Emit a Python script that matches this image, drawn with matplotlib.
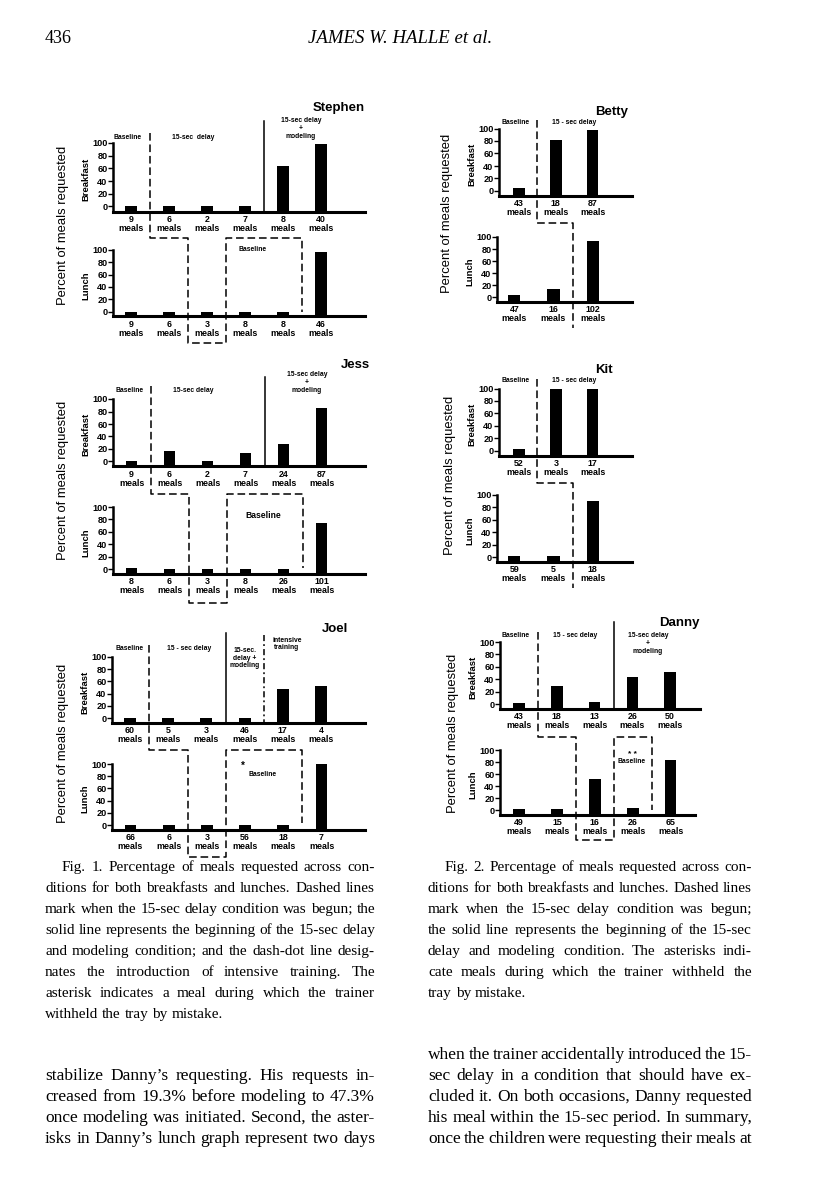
import numpy as np
import matplotlib
matplotlib.use("Agg")
import matplotlib.pyplot as plt

plt.rcParams['font.family'] = ['Liberation Sans', 'DejaVu Sans']
SERIF = ['Liberation Serif', 'DejaVu Serif']

W, H = 816, 1195
BASE = -8   # zero-valued bars show as short stubs above the axis line

# ---- percent of meals requested, and number of meals per condition ----
stephen_bk = [0, 0, 0, 0, 64, 99]
stephen_bk_n = [9, 6, 2, 7, 8, 40]
stephen_ln = [0, 0, 0, 0, 0, 96]
stephen_ln_n = [9, 6, 3, 8, 8, 46]

jess_bk = [0, 17, 1, 14, 28, 85]
jess_bk_n = [9, 6, 2, 7, 24, 87]
jess_ln = [1, 0, 0, 0, 0, 74]
jess_ln_n = [8, 6, 3, 8, 26, 101]

joel_bk = [0, 0, 0, 0, 48, 53]
joel_bk_n = [60, 5, 3, 46, 17, 4]
joel_ln = [0, 0, 0, 0, 0, 100]
joel_ln_n = [66, 6, 3, 56, 18, 7]

betty_bk = [5, 82, 98]
betty_bk_n = [43, 18, 87]
betty_ln = [4, 13, 93]
betty_ln_n = [47, 16, 102]

kit_bk = [2, 100, 99]
kit_bk_n = [52, 3, 17]
kit_ln = [1, 1, 91]
kit_ln_n = [59, 5, 18]

danny_bk = [2, 29, 4, 44, 51]
danny_bk_n = [43, 18, 13, 26, 50]
danny_ln = [2, 2, 51, 4, 84]
danny_ln_n = [49, 15, 16, 26, 65]

fig = plt.figure(figsize=(W / 100, H / 100), dpi=100)


def panel(left, right, top, bottom, x0, dx, vals, counts):
    # left/right/top/bottom are page pixels, y counted from the top
    ax = fig.add_axes([left / W, 1 - bottom / H, (right - left) / W, (bottom - top) / H])
    ax.set_xlim((left - x0) / dx, (right - x0) / dx)
    ax.set_ylim(BASE, 100)
    idx = np.arange(len(vals))
    ax.bar(idx, np.array(vals) - BASE, bottom=BASE, width=0.31, color='black', clip_on=False)
    ax.set_xticks(idx, [f'{n}\nmeals' for n in counts])
    ax.set_yticks([0, 20, 40, 60, 80, 100])
    ax.tick_params(axis='x', length=0, pad=2.5, labelsize=6.4)
    ax.tick_params(axis='y', length=3.5, width=1, pad=0.5, labelsize=6.6)
    for t in ax.get_xticklabels() + ax.get_yticklabels():
        t.set_fontweight('bold')
    for t in ax.get_xticklabels():
        t.set_linespacing(0.95)
    ax.spines[['top', 'right']].set_visible(False)
    ax.spines['left'].set_linewidth(1.8)
    ax.spines['bottom'].set_linewidth(2.2)
    ax.patch.set_visible(False)
    return ax


# figure 1 (left column)
st_b = panel(113, 365, 143, 211.5, 131, 38, stephen_bk, stephen_bk_n)
st_l = panel(113, 365, 250, 316.5, 131, 38, stephen_ln, stephen_ln_n)
je_b = panel(113, 365, 399, 466.5, 131.5, 38, jess_bk, jess_bk_n)
je_l = panel(113, 365, 507, 574, 131.5, 38, jess_ln, jess_ln_n)
jo_b = panel(112, 365, 657, 723, 130, 38.2, joel_bk, joel_bk_n)
jo_l = panel(112, 365, 764, 830, 130.5, 38.2, joel_ln, joel_ln_n)

# figure 2 (right column)
be_b = panel(499, 632, 128.5, 196, 519, 36.8, betty_bk, betty_bk_n)
be_l = panel(497, 632, 237, 302, 514.3, 39.2, betty_ln, betty_ln_n)
ki_b = panel(499, 632, 388.5, 455.5, 519, 36.8, kit_bk, kit_bk_n)
ki_l = panel(497, 632, 495, 562, 514.3, 39.2, kit_ln, kit_ln_n)
da_b = panel(500, 700, 642, 709, 519, 37.8, danny_bk, danny_bk_n)
da_l = panel(500, 695, 750, 815, 519, 37.9, danny_ln, danny_ln_n)

# overlay in page pixels for lines crossing panels and all free text
ov = fig.add_axes([0, 0, 1, 1])
ov.set_xlim(0, W)
ov.set_ylim(H, 0)
ov.axis('off')


def xp(ax, xi):
    return ax.transData.transform((xi, 0))[0]


DASH = dict(color='black', lw=1.1, linestyle=(0, (5, 2.5)))
SOLID = dict(color='black', lw=1.1)


def path(pts, **kw):
    xs, ys = zip(*pts)
    ov.plot(xs, ys, **kw)


# Stephen
path([(xp(st_b, .5), 133), (xp(st_b, .5), 237.5), (xp(st_l, 1.5), 237.5), (xp(st_l, 1.5), 343),
      (xp(st_l, 2.5), 343), (xp(st_l, 2.5), 238), (xp(st_l, 4.5), 238), (xp(st_l, 4.5), 312)], **DASH)
path([(xp(st_b, 3.5), 121), (xp(st_b, 3.5), 211)], **SOLID)
# Jess
path([(xp(je_b, .5), 386), (xp(je_b, .5), 494), (xp(je_l, 1.5), 494), (xp(je_l, 1.5), 603),
      (xp(je_l, 2.5), 603), (xp(je_l, 2.5), 494), (xp(je_l, 4.5), 494), (xp(je_l, 4.5), 568)], **DASH)
path([(xp(je_b, 3.5), 377), (xp(je_b, 3.5), 466)], **SOLID)
# Joel
path([(xp(jo_b, .5), 645), (xp(jo_b, .5), 750), (xp(jo_l, 1.5), 750), (xp(jo_l, 1.5), 857),
      (xp(jo_l, 2.5), 857), (xp(jo_l, 2.5), 750), (xp(jo_l, 4.5), 750), (xp(jo_l, 4.5), 823)], **DASH)
path([(xp(jo_b, 2.5), 633), (xp(jo_b, 2.5), 722)], **SOLID)
path([(xp(jo_b, 3.5), 635), (xp(jo_b, 3.5), 722)], color='black', lw=1.1,
     linestyle=(0, (4, 2, 1.2, 2)))
# Betty, Kit
path([(xp(be_b, .5), 120), (xp(be_b, .5), 223), (xp(be_l, 1.5), 223), (xp(be_l, 1.5), 328)], **DASH)
path([(xp(ki_b, .5), 379), (xp(ki_b, .5), 483), (xp(ki_l, 1.5), 483), (xp(ki_l, 1.5), 588)], **DASH)
# Danny
path([(xp(da_b, .5), 632), (xp(da_b, .5), 737), (xp(da_l, 1.5), 737), (xp(da_l, 1.5), 840),
      (xp(da_l, 2.5), 840), (xp(da_l, 2.5), 737), (xp(da_l, 3.5), 737), (xp(da_l, 3.5), 810)], **DASH)
path([(xp(da_b, 2.5), 622), (xp(da_b, 2.5), 709)], **SOLID)


def small(x, y, s, size=4.9, ls=1.2):
    ov.text(x, y, s, fontsize=size, fontweight='bold', ha='center', va='center', linespacing=ls)


# phase labels
small(128, 137, 'Baseline')
small(193, 137, '15-sec  delay')
small(301, 128, '15-sec delay\n+\nmodeling')
small(253, 249, 'Baseline')
small(130, 390, 'Baseline')
small(193, 390, '15-sec delay')
small(307, 382, '15-sec delay\n+\nmodeling')
small(263, 515, 'Baseline', size=6.2)
small(130, 648, 'Baseline')
small(189, 648, '15 - sec delay')
small(245, 658, '15-sec.\ndelay +\nmodeling', ls=1.12)
small(287, 644, 'intensive\ntraining', ls=1.02)
small(243, 766, '*', size=7)
small(263, 774, 'Baseline')
small(516, 122, 'Baseline')
small(574, 122, '15 - sec delay')
small(516, 380, 'Baseline')
small(574, 380, '15 - sec delay')
small(516, 635, 'Baseline')
small(575, 635, '15 - sec delay')
small(648, 643, '15-sec delay\n+\nmodeling')
small(632, 754, '* *', size=6)
small(632, 761, 'Baseline')

# names
for x, y, s in [(365, 108, 'Stephen'), (370, 365, 'Jess'), (348, 629, 'Joel'),
                (628, 112, 'Betty'), (613, 370, 'Kit'), (700, 623, 'Danny')]:
    ov.text(x, y, s, fontsize=9.5, fontweight='bold', ha='right', va='center')

# axis titles
for x, y in [(63, 225), (63, 480), (63, 743), (447, 213), (450, 475), (453, 733)]:
    ov.text(x, y, 'Percent of meals requested', fontsize=9.4, rotation=90, ha='center', va='center')
for ax, name in [(st_b, 'Breakfast'), (st_l, 'Lunch'), (je_b, 'Breakfast'), (je_l, 'Lunch'),
                 (jo_b, 'Breakfast'), (jo_l, 'Lunch'), (be_b, 'Breakfast'), (be_l, 'Lunch'),
                 (ki_b, 'Breakfast'), (ki_l, 'Lunch'), (da_b, 'Breakfast'), (da_l, 'Lunch')]:
    x0, y0, x1, y1 = ax.get_position().extents
    ov.text(x0 * W - 27, H - (y0 + y1) / 2 * H + 2, name, fontsize=6.8, fontweight='bold',
            rotation=90, ha='center', va='center')

# page text
ov.text(45, 43, '436', fontsize=13, family=SERIF)
ov.text(400, 43, 'JAMES W. HALLE et al.', fontsize=13.5, family=SERIF, style='italic', ha='center')

renderer = fig.canvas.get_renderer()


def paragraph(lines, x0, x1, y0, size, indent=0, ragged_last=True, step=21):
    # crude justified setting: spread each line's words between the margins
    for k, line in enumerate(lines):
        words = line.split()
        y = y0 + k * step
        start = x0 + (indent if k == 0 else 0)
        arts = [ov.text(0, y, w, fontsize=size, family=SERIF, va='baseline') for w in words]
        ws = [a.get_window_extent(renderer).width for a in arts]
        if (ragged_last and k == len(lines) - 1) or len(words) == 1:
            gap = size * 0.25 * 100 / 72
        else:
            gap = (x1 - start - sum(ws)) / (len(words) - 1)
        x = start
        for a, w in zip(arts, ws):
            a.set_x(x)
            x += w + gap


cap1 = ['Fig. 1. Percentage of meals requested across con-',
        'ditions for both breakfasts and lunches. Dashed lines',
        'mark when the 15-sec delay condition was begun; the',
        'solid line represents the beginning of the 15-sec delay',
        'and modeling condition; and the dash-dot line desig-',
        'nates the introduction of intensive training. The',
        'asterisk indicates a meal during which the trainer',
        'withheld the tray by mistake.']
cap2 = ['Fig. 2. Percentage of meals requested across con-',
        'ditions for both breakfasts and lunches. Dashed lines',
        'mark when the 15-sec delay condition was begun;',
        'the solid line represents the beginning of the 15-sec',
        'delay and modeling condition. The asterisks indi-',
        'cate meals during which the trainer withheld the',
        'tray by mistake.']
body1 = ['stabilize Danny\u2019s requesting. His requests in-',
         'creased from 19.3% before modeling to 47.3%',
         'once modeling was initiated. Second, the aster-',
         'isks in Danny\u2019s lunch graph represent two days']
body2 = ['when the trainer accidentally introduced the 15-',
         'sec delay in a condition that should have ex-',
         'cluded it. On both occasions, Danny requested',
         'his meal within the 15-sec period. In summary,',
         'once the children were requesting their meals at']

paragraph(cap1, 45, 375, 871, 11.0, indent=17)
paragraph(cap2, 428, 752, 871, 11.0, indent=17)
paragraph(body1, 45, 375, 1080, 12.5, ragged_last=False)
paragraph(body2, 428, 752, 1059, 12.5, ragged_last=False)

fig.savefig('out.png', dpi=100)
